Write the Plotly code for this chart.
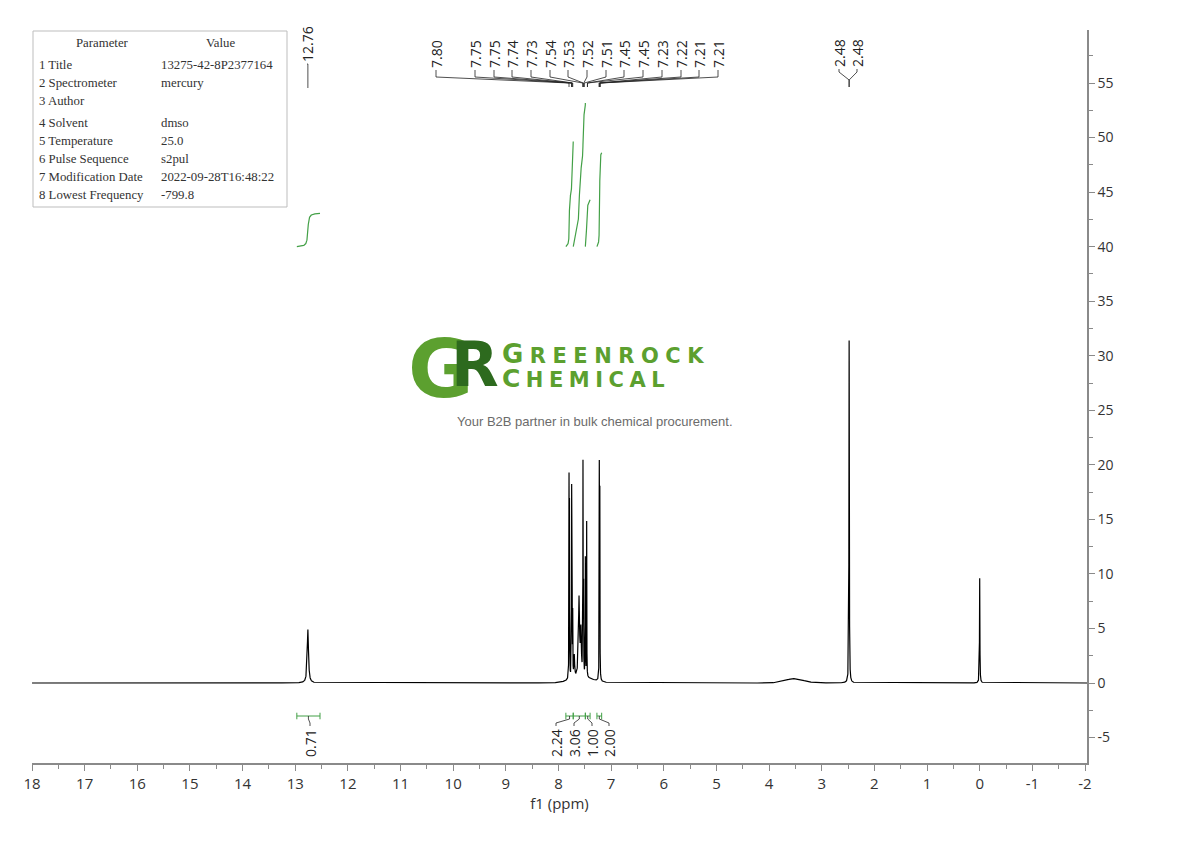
import numpy as np
import plotly.graph_objects as go

# ---------------- data ----------------
peak_ppm    = [12.760, 7.800, 7.792, 7.750, 7.742, 7.730, 7.700, 7.610, 7.575, 7.535, 7.525, 7.490, 7.465, 7.225, 7.215, 2.480, 0.000]
peak_height = [4.90, 17.6, 15.0, 16.5, 12.8, 5.5, 2.0, 7.2, 4.0, 18.9, 10.7, 10.8, 14.2, 19.3, 16.8, 31.4, 9.6]
peak_hwhm   = [0.014, 0.0025, 0.0025, 0.0025, 0.0025, 0.0025, 0.008, 0.012, 0.010, 0.0025, 0.0025, 0.0025, 0.0025, 0.0025, 0.0025, 0.004, 0.004]
broad_ppm    = [7.55, 3.52]
broad_height = [0.45, 0.40]
broad_hwhm   = [0.25, 0.20]

peak_label_groups = [
    ["12.76"],
    ["7.80", "7.75", "7.75", "7.74", "7.73", "7.54", "7.53", "7.52", "7.51",
     "7.45", "7.45", "7.23", "7.22", "7.21", "7.21"],
    ["2.48", "2.48"],
]

integral_values = ["0.71", "2.24", "3.06", "1.00", "2.00"]
integral_from   = [12.97, 7.86, 7.72, 7.49, 7.27]
integral_to     = [12.53, 7.72, 7.49, 7.40, 7.18]

x_ticks = list(range(18, -3, -1))
y_ticks = list(range(-5, 60, 5))

param_names  = ["1 Title", "2 Spectrometer", "3 Author", "4 Solvent", "5 Temperature",
                "6 Pulse Sequence", "7 Modification Date", "8 Lowest Frequency"]
param_values = ["13275-42-8P2377164", "mercury", "", "dmso", "25.0", "s2pul",
                "2022-09-28T16:48:22", "-799.8"]

# ---------------- layout geometry (screen pixels) ----------------
OFF = 8                                 # page body margin
FIG_W, FIG_H = 1190 - 2 * OFF, 841 - 2 * OFF
L, T, W, H = 32, 30, 1055, 733          # plot area on screen
PPM_PX = 52.65                          # px per ppm
Y0_PX, Y_PX = 683.0, 10.909             # y=0 row, px per unit
X_RANGE = [18, 18 - W / PPM_PX]
Y_RANGE = [(Y0_PX - (T + H)) / Y_PX, (Y0_PX - T) / Y_PX]


def xp(px):
    return (px - L) / W


def yp(py):
    return (T + H - py) / H


def ppm_of(px):
    return 18 - (px - L) / PPM_PX


def val_of(py):
    return (Y0_PX - py) / Y_PX


# ---------------- spectrum ----------------
x = np.union1d(np.arange(-2.05, 18.0, 0.0005), np.array(peak_ppm))
y = np.zeros_like(x)
for c, h, g in zip(peak_ppm, peak_height, peak_hwhm):
    y += h * g * g / (g * g + (x - c) ** 2)
for c, h, g in zip(broad_ppm, broad_height, broad_hwhm):
    y += h * np.exp(-np.log(2) * ((x - c) / g) ** 2)

fig = go.Figure()
fig.add_trace(go.Scatter(x=x, y=y, mode="lines", line=dict(color="black", width=1.2),
                         hoverinfo="skip", showlegend=False))

# ---------------- integral curves ----------------
GREEN = "#43a047"
INT_BASE, INT_K = 40.0, 4.3
for lab, a, b in zip(integral_values, integral_from, integral_to):
    m = (x <= a) & (x >= b)
    xs = x[m][::-1]
    ys = y[m][::-1]
    cum = np.concatenate([[0], np.cumsum(0.5 * (ys[1:] + ys[:-1]) * np.abs(np.diff(xs)))])
    curve = INT_BASE + INT_K * float(lab) * cum / cum[-1]
    fig.add_trace(go.Scatter(x=xs, y=curve, mode="lines", line=dict(color=GREEN, width=1.2),
                             hoverinfo="skip", showlegend=False))

# ---------------- integral brackets + labels ----------------
BR_Y = val_of(716)
br_x, br_y = [], []
for a, b in zip(integral_from, integral_to):
    br_x += [a, a, None, a, b, None, b, b, None]
    br_y += [BR_Y + 0.3, BR_Y - 0.3, None, BR_Y, BR_Y, None, BR_Y + 0.3, BR_Y - 0.3, None]
fig.add_trace(go.Scatter(x=br_x, y=br_y, mode="lines", line=dict(color=GREEN, width=1),
                         hoverinfo="skip", showlegend=False))

INT_LABEL_PX = [310, 556, 574, 592, 609]
con_x, con_y = [], []
for lab, a, b, lpx in zip(integral_values, integral_from, integral_to, INT_LABEL_PX):
    cx = (a + b) / 2
    lx = ppm_of(lpx)
    con_x += [cx, cx, lx, lx, None]
    con_y += [BR_Y, val_of(719), val_of(723), val_of(726), None]
    fig.add_annotation(x=lx, y=val_of(727), text=lab, textangle=-90, showarrow=False,
                       xanchor="center", yanchor="top",
                       font=dict(family="Open Sans", size=14, color="#222"))

# ---------------- peak labels ----------------
GROUP_LABEL_PX = [[307],
                  [436, 475, 494, 512, 531, 550, 568, 587, 606, 624, 643, 662, 681, 699, 718],
                  [839, 857]]
GROUP_Y_PX = [(64, 64, 64, 88), (70, 77, 83, 87), (69, 72, 80, 87)]
for labels, lpxs, (yt, y1, y2, y3) in zip(peak_label_groups, GROUP_LABEL_PX, GROUP_Y_PX):
    for lab, lpx in zip(labels, lpxs):
        lx = ppm_of(lpx)
        px_ = float(lab)
        con_x += [lx, lx, px_, px_, None]
        con_y += [val_of(yt), val_of(y1), val_of(y2), val_of(y3), None]
        fig.add_annotation(x=lx, y=val_of(yt), text=lab, textangle=-90, showarrow=False,
                           xanchor="center", yanchor="bottom",
                           font=dict(family="Open Sans", size=14, color="#222"))

fig.add_trace(go.Scatter(x=con_x, y=con_y, mode="lines", line=dict(color="#222", width=0.8),
                         hoverinfo="skip", showlegend=False))

# ---------------- parameter table ----------------
fig.add_shape(type="rect", xref="paper", yref="paper", x0=xp(33), x1=xp(287),
              y0=yp(207), y1=yp(31), line=dict(color="#bdbdbd", width=1), fillcolor="white")
TFONT = dict(family="Liberation Serif", size=12.8, color="#333")
fig.add_annotation(xref="paper", yref="paper", x=xp(102), y=yp(43), text="Parameter",
                   showarrow=False, xanchor="center", yanchor="middle", font=TFONT)
fig.add_annotation(xref="paper", yref="paper", x=xp(220), y=yp(43), text="Value",
                   showarrow=False, xanchor="center", yanchor="middle", font=TFONT)
ROW_PX = [65, 83, 101, 123, 141, 159, 177, 195]
for nm, vl, ry in zip(param_names, param_values, ROW_PX):
    fig.add_annotation(xref="paper", yref="paper", x=xp(37), y=yp(ry), text=nm,
                       showarrow=False, xanchor="left", yanchor="middle", font=TFONT)
    if vl:
        fig.add_annotation(xref="paper", yref="paper", x=xp(159), y=yp(ry), text=vl,
                           showarrow=False, xanchor="left", yanchor="middle", font=TFONT)

# ---------------- logo ----------------
LG = "#5ca02f"
LD = "#2d6a1e"
fig.add_annotation(xref="paper", yref="paper", x=xp(441), y=yp(369), text="<b>G</b>",
                   showarrow=False, xanchor="center", yanchor="middle", borderpad=0, borderwidth=0,
                   font=dict(family="DejaVu Sans", size=80, color=LG))
fig.add_annotation(xref="paper", yref="paper", x=xp(475), y=yp(365), text="<b>R</b>",
                   showarrow=False, xanchor="center", yanchor="middle", borderpad=0, borderwidth=0,
                   font=dict(family="DejaVu Sans", size=62, color=LD))
word1, word2 = "GREENROCK", "CHEMICAL"


def smallcaps(word, big, small, spacing):
    return ("<span style='font-size:%dpx;letter-spacing:%.1fpx'><b>%s</b></span>"
            "<span style='font-size:%dpx;letter-spacing:%.1fpx'><b>%s</b></span>"
            % (big, spacing, word[0], small, spacing, word[1:]))


fig.add_annotation(xref="paper", yref="paper", x=xp(502), y=yp(366),
                   text=smallcaps(word1, 26, 21, 6.5) + "<br>" + smallcaps(word2, 25, 21, 5.5),
                   showarrow=False, xanchor="left", yanchor="middle", align="left",
                   borderpad=0, borderwidth=0,
                   font=dict(family="DejaVu Sans", size=18.5, color=LG))
fig.add_annotation(xref="paper", yref="paper", x=xp(595), y=yp(421),
                   text="Your B2B partner in bulk chemical procurement.", showarrow=False,
                   xanchor="center", yanchor="middle",
                   font=dict(family="Liberation Sans", size=13, color="#6b6b6b"))

# ---------------- axes ----------------
AX = "#8a8a8a"
fig.update_layout(
    width=FIG_W, height=FIG_H,
    margin=dict(l=L - OFF, r=FIG_W - (L - OFF + W), t=T - OFF, b=FIG_H - (T - OFF + H)),
    paper_bgcolor="white", plot_bgcolor="white",
    showlegend=False,
    xaxis=dict(range=X_RANGE, showgrid=False, zeroline=False, showline=True,
               linecolor=AX, linewidth=1.5, ticks="outside", ticklen=6, tickcolor=AX,
               tickwidth=1.2, tickmode="array", tickvals=x_ticks,
               ticktext=[str(v) for v in x_ticks],
               tickfont=dict(family="Open Sans", size=15, color="#333"),
               minor=dict(tickmode="linear", tick0=0, dtick=0.5, ticks="outside", ticklen=4,
                          tickcolor=AX, tickwidth=1.2),
               title=dict(text="f1 (ppm)", font=dict(family="Open Sans", size=15, color="#333"),
                          standoff=2)),
    yaxis=dict(range=Y_RANGE, side="right", showgrid=False, zeroline=False, showline=True,
               linecolor=AX, linewidth=1.5, ticks="outside", ticklen=6, tickcolor=AX,
               tickwidth=1.2, tickmode="array", tickvals=y_ticks,
               ticktext=[str(v) for v in y_ticks],
               tickfont=dict(family="Open Sans", size=14, color="#333"),
               minor=dict(tickmode="linear", tick0=0, dtick=2.5, ticks="outside", ticklen=4,
                          tickcolor=AX, tickwidth=1.2)),
)

fig.write_html("out.html")
